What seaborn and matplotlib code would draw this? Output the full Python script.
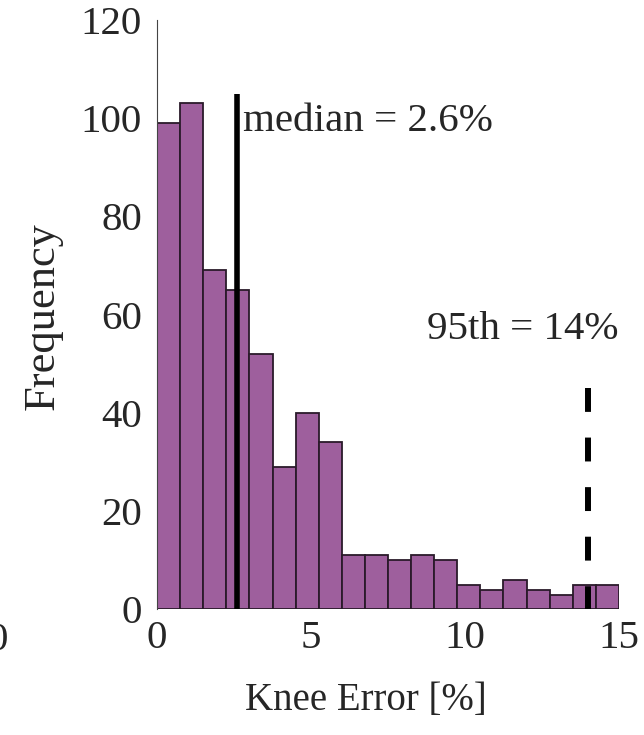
import numpy as np
import pandas as pd
import matplotlib
matplotlib.use("Agg")
import matplotlib.pyplot as plt
import seaborn as sns

# Histogram of knee error: 20 bins of width 0.75 % from 0 to 15 %
bin_edges = [0.0, 0.75, 1.5, 2.25, 3.0, 3.75, 4.5, 5.25, 6.0, 6.75, 7.5,
             8.25, 9.0, 9.75, 10.5, 11.25, 12.0, 12.75, 13.5, 14.25, 15.0]
counts = [99, 103, 69, 65, 52, 29, 40, 34, 11, 11, 10, 11, 10, 5, 4, 6, 4, 3, 5, 5]
median_err = 2.6
p95_err = 14.0
x_ticks = [0, 5, 10, 15]
y_ticks = [0, 20, 40, 60, 80, 100, 120]

centers = [(a + b) / 2 for a, b in zip(bin_edges[:-1], bin_edges[1:])]
df = pd.DataFrame({"err": centers, "n": counts})

sns.set_style("white")
plt.rcParams["font.family"] = ["Liberation Serif", "DejaVu Serif"]

fig = plt.figure(figsize=(6.44, 7.35), dpi=100)
ax = fig.add_axes([0.244, 0.171, 0.717, 0.802])

sns.histplot(data=df, x="err", weights="n", bins=bin_edges, ax=ax,
             color="#9E5F9D", alpha=1.0, edgecolor="#2a1a2a", linewidth=1.3)

# median (solid) and 95th percentile (dashed) markers
ax.plot([median_err, median_err], [0, 105], color="black", lw=4, solid_capstyle="butt")
ax.plot([p95_err, p95_err], [45, 0], color="black", lw=4.3,
        ls=(0, (4.0, 4.3)), solid_capstyle="butt", dash_capstyle="butt")
ax.text(median_err + 0.2, 99.4, "median = 2.6%", fontsize=29.5, va="center", ha="left")
ax.text(11.88, 57, "95th = 14%", fontsize=29.5, va="center", ha="center")

ax.set_xlim(0, 15)
ax.set_ylim(0, 120)
ax.set_xticks(x_ticks)
ax.set_yticks(y_ticks)
ax.tick_params(axis="both", direction="in", length=5, width=1, color="#555555",
               labelsize=29.5, pad=11)
ax.tick_params(axis="x", pad=8)

ax.set_xlabel("Knee Error [%]", fontsize=28)
ax.xaxis.set_label_coords(0.452, -0.155)
ax.xaxis.label.set_verticalalignment("center")
ax.set_ylabel("Frequency", fontsize=32)
ax.yaxis.set_label_coords(-0.249, 0.497)
ax.yaxis.label.set_verticalalignment("center")

for s in ["top", "right", "bottom"]:
    ax.spines[s].set_visible(False)
ax.spines["left"].set_color("#444444")

# edge of the neighbouring panel's x tick label
fig.text(0.012, 0.129, "0", fontsize=29.5, ha="right", va="center")

fig.savefig("out.png", dpi=100, facecolor="white")
